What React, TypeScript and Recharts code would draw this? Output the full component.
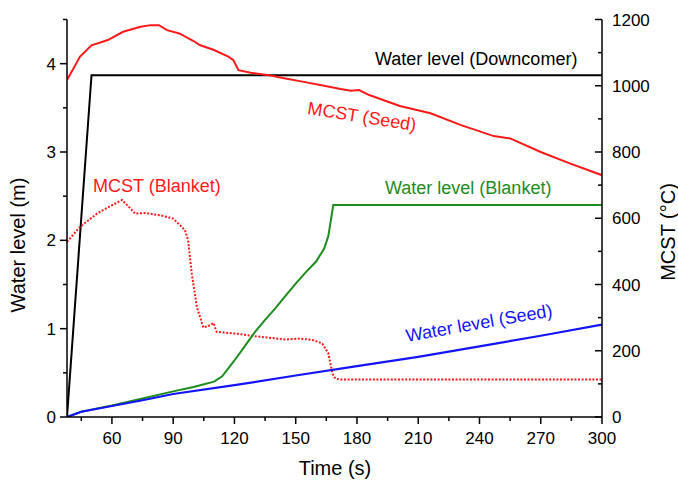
import React from 'react';
import { LineChart, Line, XAxis, YAxis } from 'recharts';

const FONT = '"Liberation Sans", Arial, Helvetica, sans-serif';

// x axis ticks (minor every 15 s, labelled every 30 s)
const xTicks = [45, 60, 75, 90, 105, 120, 135, 150, 165, 180, 195, 210, 225, 240, 255, 270, 285, 300];
const xTopTicks = [60, 90, 120, 150, 180, 210, 240, 270, 300];
const levelTicks = [0, 0.5, 1, 1.5, 2, 2.5, 3, 3.5, 4, 4.5];
const mcstTicks = [0, 100, 200, 300, 400, 500, 600, 700, 800, 900, 1000, 1100, 1200];

// Water level (Downcomer), m
const downcomerTime = [38, 50, 300];
const downcomerLevel = [0, 3.87, 3.87];

// Water level (Seed), m
const seedTime = [38, 45, 60, 75, 90, 120, 150, 180, 210, 240, 270, 300];
const seedLevel = [0, 0.06, 0.125, 0.19, 0.26, 0.36, 0.47, 0.575, 0.68, 0.8, 0.92, 1.047];

// Water level (Blanket), m
const blanketTime = [38, 45, 60, 75, 90, 100, 110, 114, 117, 120, 125, 130, 135, 140, 145, 150, 155, 160, 164, 166, 168.4, 300];
const blanketLevel = [0, 0.06, 0.13, 0.21, 0.29, 0.34, 0.4, 0.46, 0.55, 0.64, 0.8, 0.96, 1.1, 1.23, 1.37, 1.51, 1.64, 1.76, 1.91, 2.05, 2.4, 2.4];

// MCST (Seed), °C
const mcstSeedTime = [38, 44.4, 50, 58, 65.5, 74, 79, 83, 87, 93, 100, 103, 110, 117, 119.5, 122, 128, 137, 145, 152, 162, 172, 177, 181, 186, 201, 216, 231, 247, 255, 270, 284.5, 300];
const mcstSeedTemp = [1017, 1088, 1122, 1138, 1163, 1178, 1183, 1183, 1168, 1158, 1135, 1123, 1108, 1088, 1077, 1047, 1039, 1032, 1022, 1014, 1002, 990, 985, 987, 972, 939, 917, 881, 848, 841, 800, 765, 730];

// MCST (Blanket), °C
const mcstBlanketTime = [38, 44.4, 52.7, 59, 65, 69, 71.3, 76, 83.6, 90, 95.8, 97.3, 99.1, 101.6, 104.8, 108.1, 109.7, 111.3, 120, 130, 145, 152, 158.6, 163, 166, 168, 169.4, 172, 300];
const mcstBlanketTemp = [529, 574, 614, 636, 655, 630, 614, 616, 609, 599, 564, 534, 433, 332, 270, 277, 284, 257, 252, 244, 234, 237, 232, 222, 192, 131, 116, 113, 113];

const toPoints = (ts: number[], vs: number[]) => ts.map((t, i) => ({ t, v: vs[i] }));

const BottomTick = (props: any) => {
  const { x, y, payload } = props;
  const major = payload.value % 30 === 0;
  return (
    <g>
      <line x1={x} x2={x} y1={y} y2={y + (major ? 7 : 4)} stroke="#000" strokeWidth={1.5} />
      {major && (
        <text x={x} y={y + 27} textAnchor="middle" fontSize={17} fontFamily={FONT} fill="#000">
          {payload.value}
        </text>
      )}
    </g>
  );
};

const TopTick = (props: any) => {
  const { x, y } = props;
  return <line x1={x} x2={x} y1={y} y2={y + 7} stroke="#000" strokeWidth={1.5} />;
};

const LeftTick = (props: any) => {
  const { x, y, payload } = props;
  const major = Number.isInteger(payload.value);
  return (
    <g>
      <line x1={x - (major ? 7 : 4)} x2={x} y1={y} y2={y} stroke="#000" strokeWidth={1.5} />
      {major && (
        <text x={x - 11} y={y + 6} textAnchor="end" fontSize={17} fontFamily={FONT} fill="#000">
          {payload.value}
        </text>
      )}
    </g>
  );
};

const RightTick = (props: any) => {
  const { x, y, payload } = props;
  const major = payload.value % 200 === 0;
  return (
    <g>
      <line x1={x - (major ? 7 : 4)} x2={x} y1={y} y2={y} stroke="#000" strokeWidth={1.5} />
      {major && (
        <text x={x + 10} y={y + 6} textAnchor="start" fontSize={17} fontFamily={FONT} fill="#000">
          {payload.value}
        </text>
      )}
    </g>
  );
};

const axisLine = { stroke: '#000', strokeWidth: 1.5 };

export default function App() {
  return (
    <div style={{ position: 'relative', width: 678, height: 481, background: '#fff' }}>
      <style>{'body{margin:0;}'}</style>
      <LineChart width={678} height={481} margin={{ top: 19.5, right: 0, bottom: 0, left: 0 }}>
        <XAxis
          xAxisId="b"
          type="number"
          dataKey="t"
          domain={[38, 300]}
          ticks={xTicks}
          interval={0}
          height={64}
          tickSize={0}
          tickMargin={0}
          tickLine={false}
          axisLine={axisLine}
          tick={(p: any) => <BottomTick {...p} />}
          allowDataOverflow
        />
        <XAxis
          xAxisId="top"
          orientation="top"
          type="number"
          dataKey="t"
          domain={[38, 300]}
          ticks={xTopTicks}
          interval={0}
          height={0}
          tickSize={0}
          tickMargin={0}
          tickLine={false}
          axisLine={axisLine}
          tick={(p: any) => <TopTick {...p} />}
          allowDataOverflow
        />
        <YAxis
          yAxisId="l"
          type="number"
          domain={[0, 4.5]}
          ticks={levelTicks}
          interval={0}
          width={67}
          tickSize={0}
          tickMargin={0}
          tickLine={false}
          axisLine={axisLine}
          tick={(p: any) => <LeftTick {...p} />}
          allowDataOverflow
        />
        <YAxis
          yAxisId="r"
          orientation="right"
          type="number"
          domain={[0, 1200]}
          ticks={mcstTicks}
          interval={0}
          width={76}
          tickSize={0}
          tickMargin={0}
          tickLine={false}
          axisLine={axisLine}
          tick={(p: any) => <RightTick {...p} />}
          allowDataOverflow
        />
        <Line
          xAxisId="b"
          yAxisId="l"
          data={toPoints(downcomerTime, downcomerLevel)}
          dataKey="v"
          type="linear"
          stroke="#000"
          strokeWidth={2}
          dot={false}
          activeDot={false}
          isAnimationActive={false}
        />
        <Line
          xAxisId="b"
          yAxisId="r"
          data={toPoints(mcstBlanketTime, mcstBlanketTemp)}
          dataKey="v"
          type="linear"
          stroke="#ff1a1a"
          strokeWidth={2}
          strokeDasharray="2 1.6"
          dot={false}
          activeDot={false}
          isAnimationActive={false}
        />
        <Line
          xAxisId="b"
          yAxisId="r"
          data={toPoints(mcstSeedTime, mcstSeedTemp)}
          dataKey="v"
          type="linear"
          stroke="#ff1a1a"
          strokeWidth={2}
          dot={false}
          activeDot={false}
          isAnimationActive={false}
        />
        <Line
          xAxisId="b"
          yAxisId="l"
          data={toPoints(blanketTime, blanketLevel)}
          dataKey="v"
          type="linear"
          stroke="#1e8c1e"
          strokeWidth={2}
          dot={false}
          activeDot={false}
          isAnimationActive={false}
        />
        <Line
          xAxisId="b"
          yAxisId="l"
          data={toPoints(seedTime, seedLevel)}
          dataKey="v"
          type="linear"
          stroke="#1414ff"
          strokeWidth={2.2}
          dot={false}
          activeDot={false}
          isAnimationActive={false}
        />
      </LineChart>
      <svg
        width={678}
        height={481}
        style={{ position: 'absolute', left: 0, top: 0, pointerEvents: 'none' }}
        fontFamily={FONT}
      >
        {/* axis titles */}
        <text x={335} y={475} textAnchor="middle" fontSize={20} fill="#000">Time (s)</text>
        <text x={25} y={245} textAnchor="middle" fontSize={20} fill="#000" transform="rotate(-90 25 245)">Water level (m)</text>
        <text x={675} y={232} textAnchor="middle" fontSize={20} fill="#000" transform="rotate(-90 675 232)">MCST (°C)</text>
        {/* series annotations */}
        <text x={375} y={65} fontSize={18} fill="#000">Water level (Downcomer)</text>
        <text x={361} y={122.5} textAnchor="middle" fontSize={18} fill="#ff1a1a" transform="rotate(9 361 122.5)">MCST (Seed)</text>
        <text x={93} y={192} fontSize={18} fill="#ff1a1a">MCST (Blanket)</text>
        <text x={385} y={194} fontSize={18} fill="#1e8c1e">Water level (Blanket)</text>
        <text x={480} y={329} textAnchor="middle" fontSize={18} fill="#1414ff" transform="rotate(-10 480 329)">Water level (Seed)</text>
      </svg>
    </div>
  );
}
